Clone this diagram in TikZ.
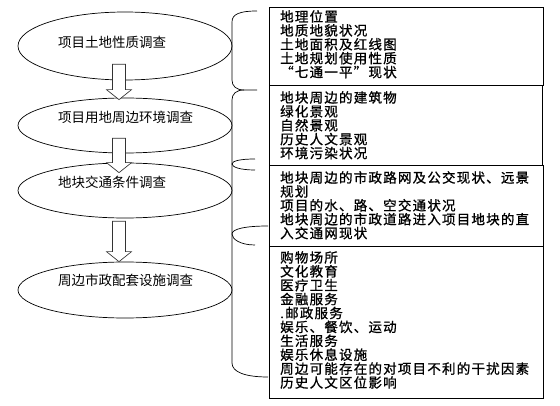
\documentclass[tikz,border=0pt]{standalone}
\usepackage{fontspec}
\setmainfont{Noto Sans CJK SC}
\newfontfamily\listfont[LetterSpace=9,FakeBold=1]{Noto Sans CJK SC}
\newcommand{\listsize}{\listfont\fontsize{13.5}{13.9}\selectfont\lineskiplimit=-10pt\relax}
\usetikzlibrary{shapes.geometric,calc}

\tikzset{
    survey/.style={draw, ellipse, line width=0.7pt, minimum width=214pt, inner sep=0pt},
    surveytext/.style={anchor=west, inner sep=0pt, font=\fontsize{13.5}{15}\selectfont},
    infobox/.style={draw, line width=0.8pt},
    infotext/.style={anchor=north west, inner sep=0pt, align=left, font=\listsize},
    flow/.style={draw=black!80, fill=white, line width=0.7pt},
    brace/.style={line width=0.7pt}
}

% hollow block arrow: shaft top, tip
\newcommand{\flowarrow}[2]{
    \draw[flow] let \p1=(#1), \p2=(#2) in
        (\x2-6.5pt,\y1) -- (\x2+6.5pt,\y1) -- (\x2+6.5pt,\y2+10pt)
        -- (\x2+12.5pt,\y2+10pt) -- (\p2) -- (\x2-12.5pt,\y2+10pt)
        -- (\x2-6.5pt,\y2+10pt) -- cycle;
}

\begin{document}
\begin{tikzpicture}[x=1pt, y=-1pt]
            \useasboundingbox (0,0) rectangle (560,406);

            % survey steps
            \node[survey, minimum height=68pt] (e1) at (125,46) {};
            \node[survey, minimum height=55pt] (e2) at (125,125.5) {};
            \node[survey, minimum height=55pt] (e3) at (125,190.5) {};
            \node[survey, minimum height=56pt] (e4) at (125,290) {};

            \node[surveytext] (t1) at (58,42) {项目土地性质调查};
            \node[surveytext] (t2) at (58,117) {项目用地周边环境调查};
            \node[surveytext] (t3) at (58,182) {地块交通条件调查};
            \node[surveytext] (t4) at (58,280) {周边市政配套设施调查};

            % detail boxes
            \draw[infobox] (269,7) rectangle (543,85);
            \draw[infobox] (269,85) rectangle (542,165);
            \draw[infobox] (269,165) rectangle (543,246);
            \draw[infobox] (269,246) rectangle (543,398);

            \node[infotext] (d1) at (280,10) {地理位置\\地质地貌状况\\土地面积及红线图\\土地规划使用性质\\“七通一平”现状};
            \node[infotext] (d2) at (280,91) {地块周边的建筑物\\绿化景观\\自然景观\\历史人文景观\\环境污染状况};
            \node[infotext] (d3) at (280,171) {地块周边的市政路网及公交现状、远景\\规划\\项目的水、路、空交通状况\\地块周边的市政道路进入项目地块的直\\入交通网现状};
            \node[infotext] (d4) at (280,251) {购物场所\\文化教育\\医疗卫生\\金融服务\\.邮政服务\\娱乐、餐饮、运动\\生活服务\\娱乐休息设施\\周边可能存在的对项目不利的干扰因素\\历史人文区位影响};

            % braces
            \draw[brace] (257,11) .. controls (240,11) and (232,14) .. (232,22)
                -- (232,80) .. controls (232,86) and (236,90) .. (244,90) -- (257,90);
            \draw[brace] (244,90) .. controls (236,90) and (232,94) .. (232,100)
                -- (232,363) .. controls (232,372) and (245,377) .. (268,377);
            \draw[brace] (255,159) .. controls (240,159) and (232,161) .. (232,164)
                .. controls (232,167) and (240,170) .. (255,170);
            \draw[brace] (268,226) .. controls (245,226) and (232,229) .. (232,234)
                .. controls (232,239) and (240,245) .. (255,245);

            % arrows between steps
            \path (e1.south) ++(-6,-16) coordinate (a1);
            \path (e2.north) ++(-6,2) coordinate (b1);
            \path (e2.south) ++(-6,-15) coordinate (a2);
            \path (e3.north) ++(-6,10) coordinate (b2);
            \path (e3.south) ++(-6,3) coordinate (a3);
            \path (e4.north) ++(-6,0) coordinate (b3);
            \flowarrow{a1}{b1}
            \flowarrow{a2}{b2}
            \flowarrow{a3}{b3}
        \end{tikzpicture}
\end{document}
